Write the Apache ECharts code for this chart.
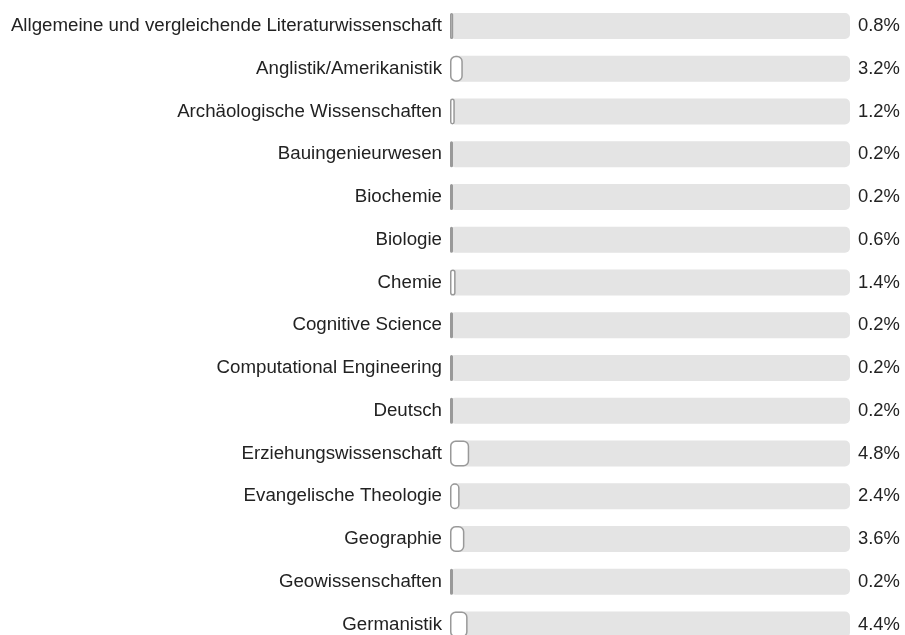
<!DOCTYPE html>
<html><head><meta charset="utf-8">
<script src="https://cdn.jsdelivr.net/npm/echarts@6/dist/echarts.min.js"></script>
<style>html,body{margin:0;padding:0;background:#fff}#c{width:905px;height:635px}</style>
</head><body><div id="c"></div>
<script>
const categories = ["Allgemeine und vergleichende Literaturwissenschaft","Anglistik/Amerikanistik","Archäologische Wissenschaften","Bauingenieurwesen","Biochemie","Biologie","Chemie","Cognitive Science","Computational Engineering","Deutsch","Erziehungswissenschaft","Evangelische Theologie","Geographie","Geowissenschaften","Germanistik"];
const values = [0.8,3.2,1.2,0.2,0.2,0.6,1.4,0.2,0.2,0.2,4.8,2.4,3.6,0.2,4.4];
const valueLabels = values.map(v => v.toFixed(1) + "%");

const chart = echarts.init(document.getElementById('c'));
const font = "Liberation Sans, Arial, sans-serif";
chart.setOption({
  animation: false,
  grid: {left: 450, right: 55, top: 4.6, bottom: -10.9, outerBoundsMode: 'none', containLabel: false},
  xAxis: {type: 'value', min: 0, max: 100, show: false},
  yAxis: [
    {type: 'category', data: categories, inverse: true, axisLine: {show: false}, axisTick: {show: false},
     axisLabel: {color: '#222', fontSize: 18.7, fontFamily: font, margin: 8}},
    {type: 'category', data: valueLabels, inverse: true, position: 'right', axisLine: {show: false}, axisTick: {show: false},
     axisLabel: {color: '#222', fontSize: 18.4, fontFamily: font, margin: 8}}
  ],
  series: [{
    type: 'bar', data: values, barWidth: 26, barMinHeight: 3,
    showBackground: true,
    backgroundStyle: {color: '#e4e4e4', borderRadius: 5},
    itemStyle: {color: '#fff', borderColor: '#999', borderWidth: 1.5, borderRadius: 5}
  }]
});
</script></body></html>
